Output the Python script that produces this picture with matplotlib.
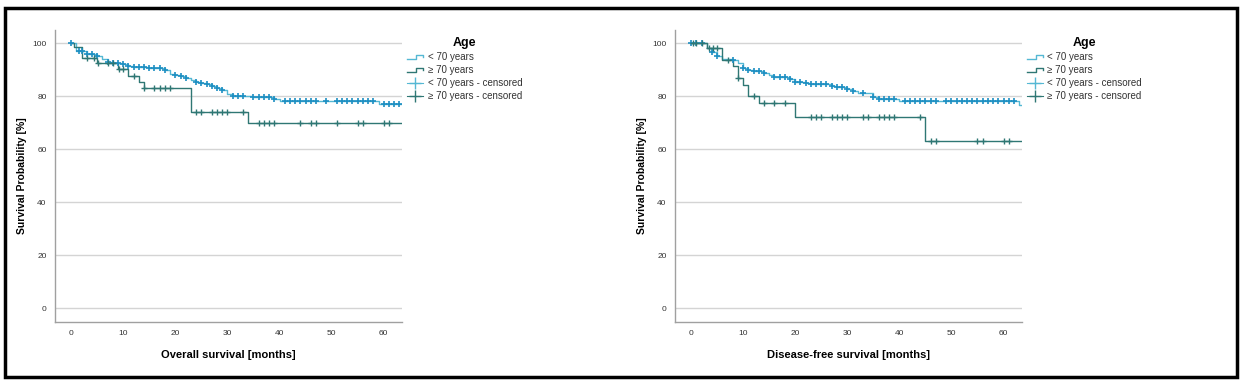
import numpy as np
import matplotlib
matplotlib.use("Agg")
import matplotlib.pyplot as plt
from matplotlib.legend_handler import HandlerBase
from matplotlib.lines import Line2D
from matplotlib.patches import Rectangle

# ---------------- data ----------------
# Overall survival, age < 70
os_young_t = [0, 1, 3, 5, 6, 7, 8, 10, 11, 12, 15, 18, 19, 20, 21, 22, 23, 24, 25, 26, 27, 28, 29, 30, 31, 35, 39, 40, 59]
os_young_s = [100, 97, 96, 95, 94, 93, 92.5, 92, 91.5, 91, 90.5, 90, 88.5, 88, 87.5, 87, 86, 85.5, 85, 84.5, 84, 83, 82.5, 81, 80, 79.5, 79, 78.1, 76.9]
os_young_c = [0, 1.5, 2, 3, 4, 5, 7, 8, 9, 10, 11, 12, 13, 14, 15, 16, 17, 18, 20, 21, 22, 24, 25, 26, 27, 28, 29,
              31, 32, 33, 35, 36, 37, 38, 39, 41, 42, 43, 44, 45, 46, 47, 49, 51, 52, 53, 54, 55, 56, 57, 58,
              60, 61, 62, 63]
# Overall survival, age >= 70
os_old_t = [0, 0.5, 2, 5, 9, 11, 13, 14, 23, 34]
os_old_s = [100, 98.4, 94.3, 92.6, 90.2, 87.8, 85.4, 83, 74.1, 69.7]
os_old_c = [3, 4.3, 5.2, 7, 8, 9.2, 10, 12, 14, 16, 17, 18, 19, 24, 25, 27, 28, 29, 30, 33,
            36, 37, 38, 39, 44, 46, 47, 51, 55, 56, 60, 61]

# Disease-free survival, age < 70
dfs_young_t = [0, 3, 4, 5, 6, 8, 9, 10, 11, 12, 14, 15, 16, 19, 20, 22, 23, 27, 28, 30, 31, 32, 35, 36, 40, 63]
dfs_young_s = [100, 98.1, 96.5, 95, 94, 93.5, 92.5, 90.6, 90, 89.5, 88.7, 88, 87.2, 86.5, 85.5, 85, 84.5, 84, 83.5, 82.7, 82, 81.3, 79.8, 79, 78.3, 76.5]
dfs_young_c = [0, 1, 2, 4, 5, 8, 10, 11, 12, 13, 14, 16, 17, 18, 19, 20, 21, 22, 23, 24, 25, 26, 27, 28, 29, 30,
               31, 33, 35, 36, 37, 38, 39, 41, 42, 43, 44, 45, 46, 47, 49, 50, 51, 52, 53, 54, 55, 56, 57,
               58, 59, 60, 61, 62]
# Disease-free survival, age >= 70
dfs_old_t = [0, 3, 6, 8, 9, 10, 11, 13, 20, 45]
dfs_old_s = [100, 98.2, 93.7, 91.4, 87.0, 84.4, 79.9, 77.4, 72.1, 63.0]
dfs_old_c = [0.3, 1, 2, 3.5, 4.3, 5, 7, 9, 12, 14, 16, 18, 23, 24, 25, 27, 28, 29, 30, 33, 34,
             36, 37, 38, 39, 44, 46, 47, 55, 56, 60, 61]

x_max = 63.5
y_ticks = [0, 20, 40, 60, 80, 100]
x_ticks = [0, 10, 20, 30, 40, 50, 60]
legend_title = "Age"
legend_labels = ["< 70 years", "\u2265 70 years", "< 70 years - censored", "\u2265 70 years - censored"]
y_label = "Survival Probability [%]"
x_labels = ["Overall survival [months]", "Disease-free survival [months]"]

# ---------------- style ----------------
c_young_line = "#55b8d4"
c_young_mark = "#1e8fc2"
c_old = "#2f7774"

plt.rcParams['font.family'] = ['Liberation Sans', 'DejaVu Sans']

fig = plt.figure(figsize=(12.43, 3.89), dpi=100)


class StepHandler(HandlerBase):
    def __init__(self, color):
        super().__init__()
        self.color = color

    def create_artists(self, legend, orig_handle, xdescent, ydescent, width, height, fontsize, trans):
        x0 = -xdescent
        y0 = -ydescent
        xs = [x0, x0 + width * 0.55, x0 + width * 0.55, x0 + width, x0 + width]
        ys = [y0 + height * 0.2, y0 + height * 0.2, y0 + height * 0.8, y0 + height * 0.8, y0 + height * 0.45]
        ln = Line2D(xs, ys, color=self.color, lw=1.0, transform=trans)
        return [ln]


def step_value(ts, ss, t):
    idx = np.searchsorted(np.asarray(ts), t, side='right') - 1
    return np.asarray(ss)[idx]


def draw_panel(rect, yt, ys, yc, ot, os_, oc, xlabel):
    ax = fig.add_axes(rect)
    ax.step(list(yt) + [x_max], list(ys) + [ys[-1]], where='post', color=c_young_line, lw=1.0, zorder=3)
    ax.plot(yc, step_value(yt, ys, yc), linestyle='none', marker='+', ms=5, mew=1.2,
            color=c_young_mark, zorder=4)
    ax.step(list(ot) + [x_max], list(os_) + [os_[-1]], where='post', color=c_old, lw=1.0, zorder=3)
    ax.plot(oc, step_value(ot, os_, oc), linestyle='none', marker='+', ms=5, mew=1.0,
            color=c_old, zorder=4)

    ax.set_xlim(-3.1, x_max)
    ax.set_ylim(-5.3, 105)
    ax.set_yticks(y_ticks)
    ax.set_xticks(x_ticks)
    ax.tick_params(axis='both', length=0, labelsize=6, colors='#333333', pad=6)
    for y in y_ticks:
        ax.axhline(y, color='#d4d4d4', lw=1.0, zorder=1)
    for s in ['top', 'right']:
        ax.spines[s].set_visible(False)
    for s in ['left', 'bottom']:
        ax.spines[s].set_color('#a0a0a0')
        ax.spines[s].set_linewidth(1.0)
    ax.set_ylabel(y_label, fontsize=7.5, fontweight='bold')
    ax.yaxis.set_label_coords(-0.08, 0.5)
    ax.set_xlabel(xlabel, fontsize=8, fontweight='bold', labelpad=9)

    h1 = Line2D([], [], color=c_young_line)
    h2 = Line2D([], [], color=c_old)
    h3 = Line2D([], [], color=c_young_line, marker='+', ms=9, linestyle='-', lw=0.8)
    h4 = Line2D([], [], color=c_old, marker='+', ms=9, linestyle='-', lw=0.8)
    leg = ax.legend([h1, h2, h3, h4], legend_labels, loc='upper left', bbox_to_anchor=(0.99, 1.005),
                    frameon=False, fontsize=7, handlelength=1.6, handletextpad=0.5,
                    labelspacing=0.3, title=legend_title,
                    title_fontproperties={'weight': 'bold', 'size': 9},
                    handler_map={h1: StepHandler(c_young_line), h2: StepHandler(c_old)})
    for t in leg.get_texts():
        t.set_color('#333333')
    return ax


draw_panel([0.0442, 0.172, 0.2792, 0.751], os_young_t, os_young_s, os_young_c,
           os_old_t, os_old_s, os_old_c, x_labels[0])
draw_panel([0.543, 0.172, 0.279, 0.751], dfs_young_t, dfs_young_s, dfs_young_c,
           dfs_old_t, dfs_old_s, dfs_old_c, x_labels[1])

fig.patches.append(Rectangle((5 / 1243, 12 / 389), 1232 / 1243, 369 / 389, transform=fig.transFigure,
                             fill=False, edgecolor='black', lw=2.5))

fig.savefig("out.png", dpi=100)
